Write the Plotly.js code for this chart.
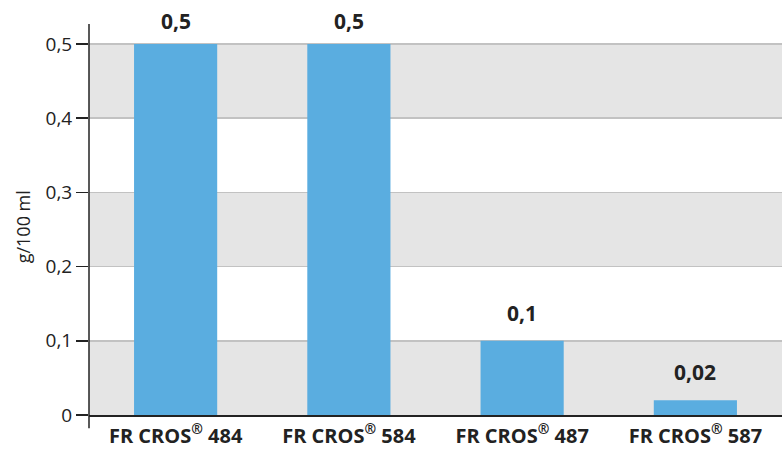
<!DOCTYPE html>
<html><head><meta charset="utf-8">
<script src="https://cdn.plot.ly/plotly-3.0.1.min.js"></script>
<style>body{margin:0;background:#fff}#c{width:782px;height:450px}</style>
</head><body><div id="c"></div>
<script>
var categories = ["FR CROS<sup>®</sup> 484", "FR CROS<sup>®</sup> 584", "FR CROS<sup>®</sup> 487", "FR CROS<sup>®</sup> 587"];
var values = [0.5, 0.5, 0.1, 0.02];
var valueLabels = ["0,5", "0,5", "0,1", "0,02"];
var bands = [[0, 0.1], [0.2, 0.3], [0.4, 0.5]];
var yTitle = "g/100 ml";

var shapes = bands.map(function(b){
  return {type:'rect', xref:'paper', yref:'y', x0:0, x1:1, y0:b[0], y1:b[1],
          fillcolor:'#e5e5e5', line:{width:0}, layer:'below'};
});
shapes.push({type:'line', xref:'paper', yref:'paper', x0:0, x1:0, y0:-0.034, y1:1,
             line:{color:'#222', width:1.5}});

var annotations = values.map(function(v, i){
  return {x:categories[i], y:v, xref:'x', yref:'y', text:valueLabels[i], showarrow:false,
          yanchor:'middle', yshift:(v >= 0.5 ? 23 : 28),
          font:{family:'Open Sans, sans-serif', size:21, color:'#222', weight:'bold'}};
});
annotations.push({xref:'paper', yref:'paper', x:0, y:0.48, xshift:-66, text:yTitle,
  textangle:-90, showarrow:false, xanchor:'center', yanchor:'middle',
  font:{family:'Open Sans, sans-serif', size:18, color:'#222'}});

Plotly.newPlot('c', [{
  type:'bar', x:categories, y:values, width:0.48,
  marker:{color:'#5aade0'}, hoverinfo:'none'
}], {
  width:782, height:450,
  margin:{l:89, r:0, t:24, b:35},
  paper_bgcolor:'#fff', plot_bgcolor:'rgba(0,0,0,0)',
  separators:',.',
  showlegend:false,
  font:{family:'Open Sans, sans-serif', color:'#222'},
  xaxis:{showline:true, linecolor:'#222', linewidth:1.5, ticks:'', showgrid:false,
         ticklabelstandoff:2,
         tickfont:{size:20, color:'#222', weight:'bold'}},
  yaxis:{range:[0, 0.527], dtick:0.1, tick0:0, showline:false, ticks:'outside', ticklen:12,
         tickcolor:'#222', tickwidth:1.5, gridcolor:'#c2c2c2', gridwidth:1.5, zeroline:false,
         tickfont:{size:19, color:'#222'}},
  shapes:shapes,
  annotations:annotations
}, {staticPlot:true});
</script></body></html>
